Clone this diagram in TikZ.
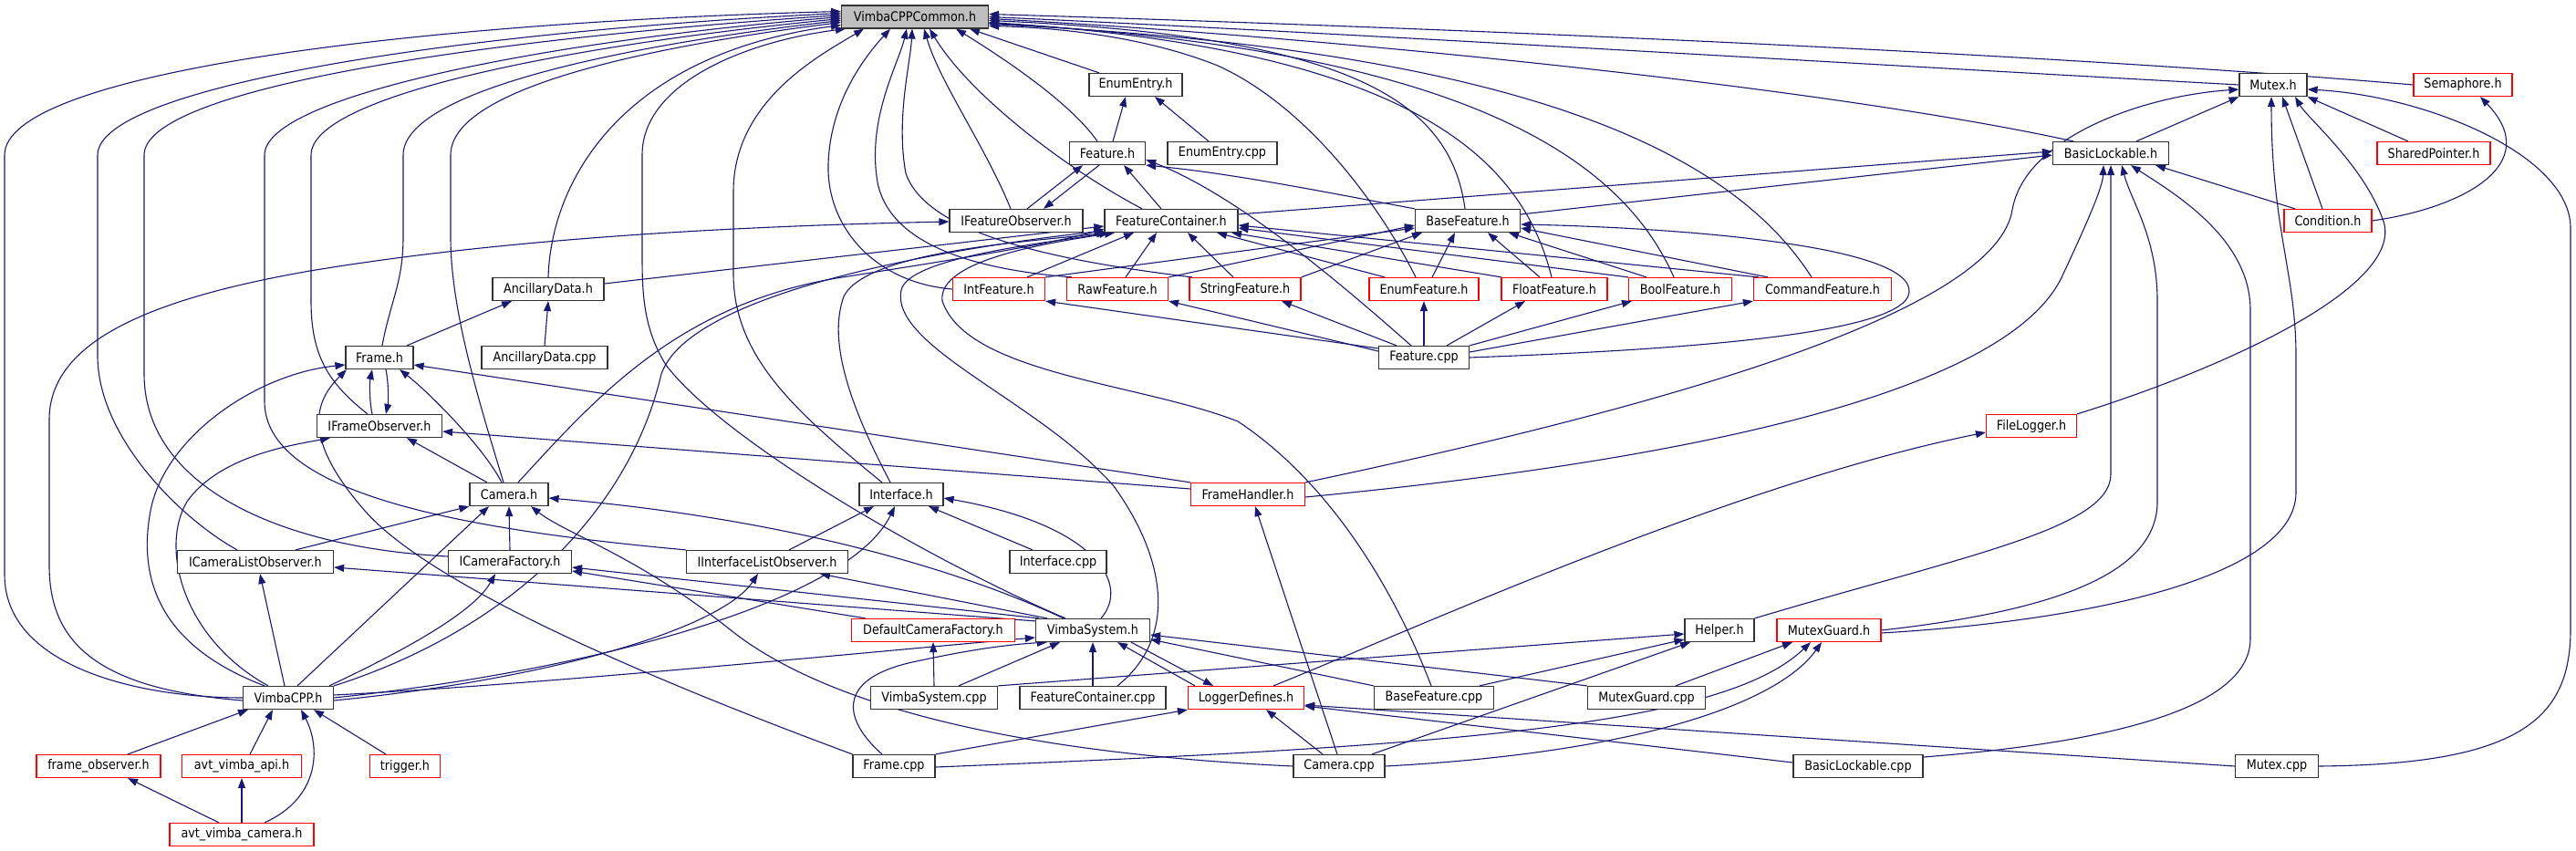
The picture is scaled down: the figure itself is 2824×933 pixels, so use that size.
\documentclass[tikz,border=0pt]{standalone}
\usepackage{fontspec}
\setmainfont{DejaVu Sans}[FakeStretch=0.88]
\usetikzlibrary{arrows.meta}
\definecolor{navy}{RGB}{25,25,112}
\definecolor{rootgray}{RGB}{191,191,191}
\definecolor{nodered}{RGB}{255,0,0}
\pgfdeclarelayer{bg}
\pgfdeclarelayer{edges}
\pgfsetlayers{bg,edges,main}
\newcommand{\nodefont}{\fontsize{14.5pt}{17pt}\selectfont}
\begin{document}
\begin{tikzpicture}[x=1pt,y=-1pt,
  nb/.style={draw=black!80, line width=1.2pt, fill=white, minimum height=25pt, inner sep=0pt, font=\nodefont},
  nr/.style={nb, draw=nodered},
  ng/.style={nb, fill=rootgray},
  conn/.style={draw=navy, line width=1.1pt, -{Triangle[length=11pt,width=8pt]}}]
\useasboundingbox (0,0) rectangle (2824,933);
\begin{pgfonlayer}{bg}
\fill[white] (0,0) rectangle (2824,933);
\end{pgfonlayer}
% ---------------- nodes ----------------
\node[ng, minimum width=161pt] (vcc) at (1003,18.5) {VimbaCPPCommon.h};
\node[nb, minimum width=102pt] (enumentry) at (1245,93) {EnumEntry.h};
\node[nb, minimum width=83pt] (feature) at (1214,168) {Feature.h};
\node[nb, minimum width=120pt] (enumentrycpp) at (1340,168) {EnumEntry.cpp};
\node[nb, minimum width=146pt] (ifeatobs) at (1114,242) {IFeatureObserver.h};
\node[nb, minimum width=146pt] (featcont) at (1284,242) {FeatureContainer.h};
\node[nb, minimum width=115pt] (basefeat) at (1609,242) {BaseFeature.h};
\node[nr, minimum width=101pt] (intfeat) at (1095,317) {IntFeature.h};
\node[nr, minimum width=111pt] (rawfeat) at (1225,317) {RawFeature.h};
\node[nr, minimum width=122pt] (stringfeat) at (1365,317) {StringFeature.h};
\node[nr, minimum width=120pt] (enumfeat) at (1561,317) {EnumFeature.h};
\node[nr, minimum width=116pt] (floatfeat) at (1704,317) {FloatFeature.h};
\node[nr, minimum width=113pt] (boolfeat) at (1842,317) {BoolFeature.h};
\node[nr, minimum width=151pt] (cmdfeat) at (1998,317) {CommandFeature.h};
\node[nb, minimum width=99pt] (featurecpp) at (1561,392) {Feature.cpp};
\node[nb, minimum width=74pt] (mutex) at (2492,93) {Mutex.h};
\node[nr, minimum width=108pt] (semaphore) at (2700,93) {Semaphore.h};
\node[nb, minimum width=127pt] (basiclock) at (2314,168) {BasicLockable.h};
\node[nr, minimum width=124pt] (sharedptr) at (2668,168) {SharedPointer.h};
\node[nr, minimum width=96pt] (condition) at (2552,242) {Condition.h};
\node[nr, minimum width=99pt] (filelogger) at (2227,467) {FileLogger.h};
\node[nb, minimum width=122pt] (ancdata) at (601,317) {AncillaryData.h};
\node[nb, minimum width=138pt] (ancdatacpp) at (597,392) {AncillaryData.cpp};
\node[nb, minimum width=74pt] (frameh) at (416,392) {Frame.h};
\node[nb, minimum width=137pt] (iframeobs) at (416,467) {IFrameObserver.h};
\node[nb, minimum width=86pt] (camerah) at (558,542) {Camera.h};
\node[nb, minimum width=171pt] (icamlistobs) at (280,616) {ICameraListObserver.h};
\node[nb, minimum width=135pt] (icamfact) at (559,616) {ICameraFactory.h};
\node[nb, minimum width=92pt] (interfaceh) at (988,542) {Interface.h};
\node[nb, minimum width=177pt] (iifacelistobs) at (841,616) {IInterfaceListObserver.h};
\node[nb, minimum width=106pt] (interfacecpp) at (1160,616) {Interface.cpp};
\node[nr, minimum width=125pt] (framehandler) at (1368,542) {FrameHandler.h};
\node[nr, minimum width=179pt] (defcamfact) at (1023,691) {DefaultCameraFactory.h};
\node[nb, minimum width=125pt] (vimbasys) at (1198,691) {VimbaSystem.h};
\node[nb, minimum width=139pt] (vimbasyscpp) at (1024,765) {VimbaSystem.cpp};
\node[nb, minimum width=160pt] (featcontcpp) at (1198,765) {FeatureContainer.cpp};
\node[nr, minimum width=127pt] (loggerdef) at (1366,765) {LoggerDefines.h};
\node[nb, minimum width=90pt] (framecpp) at (980,840) {Frame.cpp};
\node[nb, minimum width=76pt] (helper) at (1885,691) {Helper.h};
\node[nr, minimum width=114pt] (mutexguard) at (2005,691) {MutexGuard.h};
\node[nb, minimum width=131pt] (basefeatcpp) at (1572,765) {BaseFeature.cpp};
\node[nb, minimum width=129pt] (mutexguardcpp) at (1805,765) {MutexGuard.cpp};
\node[nb, minimum width=100pt] (cameracpp) at (1468,840) {Camera.cpp};
\node[nb, minimum width=142pt] (basiclockcpp) at (2037,840) {BasicLockable.cpp};
\node[nb, minimum width=91pt] (mutexcpp) at (2496,840) {Mutex.cpp};
\node[nb, minimum width=99pt] (vimbacpp) at (316,765) {VimbaCPP.h};
\node[nr, minimum width=136pt] (frameobs) at (108,840) {frame\_observer.h};
\node[nr, minimum width=131pt] (avtapi) at (265,840) {avt\_vimba\_api.h};
\node[nr, minimum width=77pt] (trigger) at (444,840) {trigger.h};
\node[nr, minimum width=158pt] (avtcam) at (265,915) {avt\_vimba\_camera.h};
% ---------------- connectors ----------------
\begin{pgfonlayer}{edges}
% into VimbaCPPCommon.h from the left
\draw[conn] (vimbacpp) .. controls (150,765) and (5,730) .. (5,630) -- (5,170) .. controls (5,80) and (450,25) .. ([yshift=6pt]vcc.west);
\draw[conn] ([xshift=-20pt]icamlistobs.north) .. controls (200,570) and (107,480) .. (107,390) -- (107,170) .. controls (107,95) and (500,35) .. ([yshift=4pt]vcc.west);
\draw[conn] ([yshift=6pt]icamfact.west) .. controls (300,600) and (158,530) .. (158,410) -- (158,170) .. controls (158,100) and (500,45) .. ([yshift=2pt]vcc.west);
\draw[conn] (iifacelistobs.north west) .. controls (500,580) and (290,540) .. (290,440) -- (290,170) .. controls (290,105) and (600,45) .. (vcc.west);
\draw[conn] ([xshift=-13pt]iframeobs.north) .. controls (360,420) and (341,390) .. (341,330) -- (341,170) .. controls (341,105) and (620,50) .. ([yshift=-2pt]vcc.west);
\draw[conn] ([xshift=3pt]frameh.north) .. controls (428,330) and (442,310) .. (442,260) -- (442,170) .. controls (442,100) and (680,50) .. ([yshift=-4pt]vcc.west);
\draw[conn] ([xshift=-6pt]camerah.north) .. controls (525,440) and (494,340) .. (494,260) -- (494,170) .. controls (494,95) and (720,50) .. ([yshift=-6pt]vcc.west);
\draw[conn] (ancdata.north) .. controls (604,200) and (680,60) .. ([yshift=-9pt]vcc.west);
\draw[conn] ([xshift=-30pt]vimbasys.north) .. controls (1010,610) and (790,480) .. (730,400) .. controls (705,360) and (704,320) .. (704,280) -- (704,170) .. controls (704,90) and (820,45) .. ([xshift=-76pt]vcc.south);
\draw[conn] ([xshift=-21pt]interfaceh.north) .. controls (870,450) and (804,390) .. (804,300) -- (804,210) .. controls (804,110) and (900,60) .. ([xshift=-56pt]vcc.south);
\draw[conn] (intfeat.west) .. controls (960,310) and (906,250) .. (908,180) .. controls (910,110) and (950,60) .. ([xshift=-27pt]vcc.south);
\draw[conn] ([xshift=-50pt]rawfeat.north) .. controls (1060,295) and (975,265) .. (962,200) .. controls (950,130) and (985,70) .. ([xshift=-9pt]vcc.south);
\draw[conn] ([xshift=-58pt]stringfeat.north) .. controls (1150,285) and (1015,255) .. (993,190) .. controls (982,130) and (998,70) .. ([xshift=-3pt]vcc.south);
\draw[conn] ([xshift=-6pt]ifeatobs.north) .. controls (1080,160) and (1030,90) .. ([xshift=10pt]vcc.south);
\draw[conn] ([xshift=-32pt]featcont.north) .. controls (1160,180) and (1060,100) .. ([xshift=16pt]vcc.south);
\draw[conn] ([xshift=-11pt]feature.north) .. controls (1175,115) and (1110,70) .. ([xshift=45pt]vcc.south);
\draw[conn] ([xshift=-40pt]enumentry.north) -- ([xshift=60pt]vcc.south);
% into VimbaCPPCommon.h from the right
\draw[conn] (semaphore.west) .. controls (2200,55) and (1500,28) .. ([yshift=3pt]vcc.east);
\draw[conn] (mutex.west) .. controls (2000,68) and (1450,35) .. (vcc.east);
\draw[conn] ([xshift=-41pt]basiclock.north) .. controls (2000,95) and (1450,40) .. ([yshift=-2pt]vcc.east);
\draw[conn] ([xshift=-3pt]basefeat.north) .. controls (1590,110) and (1480,40) .. ([yshift=-4pt]vcc.east);
\draw[conn] ([xshift=-3pt]floatfeat.north) .. controls (1670,180) and (1560,55) .. ([yshift=-6pt]vcc.east);
\draw[conn] ([xshift=-7pt]boolfeat.north) .. controls (1780,180) and (1620,55) .. ([yshift=-7pt]vcc.east);
\draw[conn] ([xshift=-12pt]cmdfeat.north) .. controls (1900,170) and (1680,55) .. ([yshift=-8pt]vcc.east);
\draw[conn] ([xshift=-9pt]enumfeat.north) .. controls (1510,220) and (1430,115) .. (1335,72) .. controls (1250,38) and (1150,30) .. ([yshift=-10pt]vcc.east);
% Feature.h cluster
\draw[conn] ([xshift=6pt]feature.north) -- ([xshift=-11pt]enumentry.south);
\draw[conn] ([xshift=-15pt]enumentrycpp.north) -- ([xshift=21pt]enumentry.south);
\draw[conn] ([xshift=12pt]ifeatobs.north) -- ([xshift=-27pt]feature.south);
\draw[conn] ([xshift=-9pt]feature.south) -- ([xshift=30pt]ifeatobs.north);
\draw[conn] ([xshift=-11pt]featcont.north) -- ([xshift=18pt]feature.south);
\draw[conn] (basefeat.north west) .. controls (1450,210) and (1350,190) .. (feature.south east);
\draw[conn] ([xshift=-14pt]featurecpp.north) .. controls (1480,320) and (1360,215) .. ([yshift=-7pt]feature.east);
\draw[conn] ([yshift=7pt]featcont.east) -- ([yshift=2pt]basiclock.west);
\draw[conn] ([yshift=7pt]basefeat.east) -- ([yshift=-2pt]basiclock.west);
% feature types
\draw[conn] ([xshift=31pt]intfeat.north) -- ([xshift=-41pt]featcont.south);
\draw[conn] ([xshift=9pt]rawfeat.north) -- ([xshift=-16pt]featcont.south);
\draw[conn] ([xshift=-13pt]stringfeat.north) -- ([xshift=18pt]featcont.south);
\draw[conn] ([xshift=-43pt]enumfeat.north) -- ([xshift=50pt]featcont.south);
\draw[conn] ([xshift=-58pt]floatfeat.north) -- ([xshift=66pt]featcont.south);
\draw[conn] (boolfeat.north west) -- ([yshift=-8pt]featcont.east);
\draw[conn] ([xshift=-70pt]cmdfeat.north) -- ([yshift=-5pt]featcont.east);
\draw[conn] (intfeat.north east) -- ([yshift=-8pt]basefeat.west);
\draw[conn] (rawfeat.north east) -- ([yshift=-5pt]basefeat.west);
\draw[conn] (stringfeat.north east) -- ([xshift=-50pt]basefeat.south);
\draw[conn] ([xshift=9pt]enumfeat.north) -- ([xshift=-14pt]basefeat.south);
\draw[conn] ([xshift=-16pt]floatfeat.north) -- ([xshift=22pt]basefeat.south);
\draw[conn] ([xshift=-37pt]boolfeat.north) -- ([xshift=45pt]basefeat.south);
\draw[conn] ([xshift=-60pt]cmdfeat.north) -- ([yshift=-8pt]basefeat.east);
% Feature.cpp
\draw[conn] ([yshift=10pt]featurecpp.west) -- (intfeat.south east);
\draw[conn] ([yshift=7pt]featurecpp.west) -- (rawfeat.south east);
\draw[conn] ([xshift=-30pt]featurecpp.north) -- ([xshift=40pt]stringfeat.south);
\draw[conn] (featurecpp.north) -- (enumfeat.south);
\draw[conn] ([xshift=25pt]featurecpp.north) -- ([xshift=-32pt]floatfeat.south);
\draw[conn] (featurecpp.north east) -- ([xshift=-53pt]boolfeat.south);
\draw[conn] ([yshift=6pt]featurecpp.east) -- (cmdfeat.south west);
\draw[conn] (featurecpp.east) .. controls (1800,385) and (2090,370) .. (2093,320) .. controls (2096,270) and (1850,250) .. ([yshift=-4pt]basefeat.east);
% Mutex / BasicLockable group
\draw[conn] ([xshift=28pt]basiclock.north) -- (mutex.south west);
\draw[conn] ([xshift=-28pt]sharedptr.north) -- (mutex.south east);
\draw[conn] ([xshift=-6pt]condition.north) -- ([xshift=10pt]mutex.south);
\draw[conn] ([xshift=-36pt]condition.north) -- ([xshift=49pt]basiclock.south);
\draw[conn] (condition.east) .. controls (2700,228) and (2790,180) .. ([xshift=19pt]semaphore.south);
\draw[conn] (filelogger.north east) .. controls (2450,400) and (2640,310) .. (2612,240) .. controls (2590,180) and (2530,130) .. ([xshift=24pt]mutex.south);
\draw[conn] (framehandler.north east) .. controls (1900,430) and (2190,330) .. (2206,230) .. controls (2220,150) and (2350,105) .. ([yshift=-5pt]mutex.west);
\draw[conn] ([yshift=-3pt]framehandler.east) .. controls (1900,500) and (2210,420) .. (2262,300) .. controls (2290,240) and (2305,205) .. ([xshift=-8pt]basiclock.south);
\draw[conn] (helper.north east) .. controls (2150,610) and (2314,580) .. (2314,520) -- (basiclock.south);
\draw[conn] (mutexguard.east) .. controls (2250,670) and (2365,630) .. (2365,550) -- (2365,330) .. controls (2365,260) and (2336,220) .. ([xshift=12pt]basiclock.south);
\draw[conn] ([yshift=-3pt]mutexguard.east) .. controls (2300,680) and (2517,630) .. (2517,540) -- (2517,390) .. controls (2517,300) and (2490,250) .. ([xshift=-2pt]mutex.south);
\draw[conn] ([yshift=10pt]basiclockcpp.east) .. controls (2300,815) and (2467,780) .. (2467,700) -- (2467,340) .. controls (2467,260) and (2380,210) .. ([xshift=22pt]basiclock.south);
\draw[conn] (mutexcpp.east) .. controls (2760,838) and (2818,790) .. (2818,690) -- (2818,250) .. controls (2818,170) and (2660,105) .. ([yshift=-5pt]mutex.east);
\draw[conn] (mutexcpp.west) -- ([yshift=-8pt]loggerdef.east);
\draw[conn] ([yshift=4pt]basiclockcpp.west) -- ([yshift=-9pt]loggerdef.east);
\draw[conn] ([xshift=30pt]loggerdef.north) .. controls (1550,690) and (1900,530) .. ([yshift=-7pt]filelogger.west);
% VimbaSystem.h
\draw[conn] ([xshift=-56pt]loggerdef.north) -- ([xshift=27pt]vimbasys.south);
\draw[conn] ([xshift=42pt]vimbasys.south) -- ([xshift=-36pt]loggerdef.north);
\draw[conn] ([xshift=9pt]vimbasys.north) .. controls (1240,640) and (1200,575) .. ([yshift=-4pt]interfaceh.east);
\draw[conn] ([xshift=-32pt]vimbasys.north) .. controls (1020,610) and (820,565) .. ([yshift=-4pt]camerah.east);
\draw[conn] ([yshift=-3pt]vimbasys.north west) -- ([yshift=-6pt]icamlistobs.east);
\draw[conn] ([xshift=4pt]vimbasys.north west) -- ([yshift=-6pt]icamfact.east);
\draw[conn] ([xshift=-74pt]defcamfact.north) -- ([yshift=-10pt]icamfact.east);
\draw[conn] ([xshift=-50pt]vimbasys.north) -- ([xshift=58pt]iifacelistobs.south);
\draw[conn] ([yshift=3pt]vimbacpp.east) .. controls (600,750) and (950,715) .. ([yshift=-8pt]vimbasys.west);
\draw[conn] ([xshift=27pt]vimbasyscpp.north) -- ([xshift=-36pt]vimbasys.south);
\draw[conn] (vimbasyscpp.north) -- (defcamfact.south);
\draw[conn] (featcontcpp.north) -- (vimbasys.south);
\draw[conn] ([xshift=-13pt]framecpp.north) .. controls (925,790) and (915,745) .. (1000,726) .. controls (1060,713) and (1100,707) .. ([xshift=-50pt]vimbasys.south);
\draw[conn] (mutexguardcpp.north west) -- ([yshift=-5pt]vimbasys.east);
\draw[conn] (basefeatcpp.north west) -- ([yshift=-10pt]vimbasys.east);
\draw[conn] (vimbasyscpp.north east) -- ([yshift=-4pt]helper.west);
\draw[conn] ([xshift=50pt]basefeatcpp.north) -- ([yshift=-10pt]helper.west);
\draw[conn] ([xshift=36pt]cameracpp.north) -- ([xshift=-32pt]helper.south);
% FeatureContainer.h from below
\draw[conn] ([xshift=-3pt]basefeatcpp.north) .. controls (1530,650) and (1460,530) .. (1357,462) .. controls (1250,420) and (1060,410) .. (1033,330) .. controls (1027,285) and (1150,266) .. ([xshift=-62pt]featcont.south);
\draw[conn] ([xshift=27pt]featcontcpp.north) .. controls (1290,700) and (1280,615) .. (1221,533) .. controls (1140,440) and (975,380) .. (988,318) .. controls (996,282) and (1150,266) .. ([xshift=-68pt]featcont.south);
\draw[conn] ([yshift=6pt]ancdata.east) -- ([yshift=-6pt]featcont.west);
\draw[conn] ([xshift=10pt]camerah.north) .. controls (650,440) and (740,335) .. (917,305) .. controls (1050,284) and (1150,268) .. ([yshift=-9pt]featcont.west);
\draw[conn] ([xshift=-12pt]interfaceh.north) .. controls (940,460) and (905,380) .. (925,325) .. controls (950,275) and (1130,265) .. ([xshift=-71pt]featcont.south);
\draw[conn] (vimbacpp.north east) .. controls (560,690) and (690,560) .. (725,410) .. controls (760,310) and (1100,265) .. ([yshift=-11pt]featcont.west);
% Ancillary, Frame, Camera
\draw[conn] (ancdatacpp.north) -- (ancdata.south);
\draw[conn] ([xshift=30pt]frameh.north) -- ([xshift=-40pt]ancdata.south);
\draw[conn] ([xshift=7pt]frameh.south) .. controls (426,420) and (426,440) .. ([xshift=7pt]iframeobs.north);
\draw[conn] ([xshift=-8pt]iframeobs.north) .. controls (405,440) and (405,420) .. ([xshift=-8pt]frameh.south);
\draw[conn] ([xshift=-8pt]camerah.north) .. controls (530,490) and (470,430) .. ([xshift=22pt]frameh.south);
\draw[conn] (framehandler.north west) -- ([yshift=-8pt]frameh.east);
\draw[conn] ([yshift=6pt]framehandler.west) -- ([yshift=-6pt]iframeobs.east);
\draw[conn] (framecpp.north west) .. controls (700,740) and (470,640) .. (400,560) .. controls (330,480) and (345,440) .. ([xshift=-36pt]frameh.south);
\draw[conn] ([xshift=-24pt]camerah.north) -- ([xshift=30pt]iframeobs.south);
\draw[conn] ([xshift=44pt]icamlistobs.north) -- (camerah.south west);
\draw[conn] (icamfact.north) -- (camerah.south);
\draw[conn] (cameracpp.west) .. controls (1100,825) and (900,770) .. (800,690) .. controls (700,610) and (620,585) .. ([xshift=24pt]camerah.south);
\draw[conn] ([xshift=-2pt]cameracpp.north) -- ([xshift=8pt]framehandler.south);
\draw[conn] ([xshift=-18pt]cameracpp.north) -- ([xshift=22pt]loggerdef.south);
\draw[conn] (cameracpp.east) .. controls (1800,825) and (1950,770) .. ([xshift=-8pt]mutexguard.south);
\draw[conn] ([yshift=-1pt]framecpp.east) .. controls (1600,818) and (1890,795) .. ([xshift=-20pt]mutexguard.south);
\draw[conn] (framecpp.north east) -- (loggerdef.south west);
\draw[conn] ([xshift=32pt]mutexguardcpp.north) -- ([xshift=-40pt]mutexguard.south);
% Interface
\draw[conn] ([xshift=24pt]iifacelistobs.north) -- ([xshift=-30pt]interfaceh.south);
\draw[conn] ([xshift=-28pt]interfacecpp.north) -- ([xshift=30pt]interfaceh.south);
% VimbaCPP.h includes
\draw[conn] (vimbacpp.east) .. controls (650,735) and (930,660) .. ([xshift=-7pt]interfaceh.south);
\draw[conn] ([yshift=-3pt]vimbacpp.east) .. controls (600,745) and (790,690) .. ([xshift=-10pt]iifacelistobs.south);
\draw[conn] ([xshift=10pt]vimbacpp.north) -- ([xshift=-22pt]camerah.south);
\draw[conn] ([xshift=45pt]vimbacpp.north) .. controls (450,710) and (520,670) .. ([xshift=-16pt]icamfact.south);
\draw[conn] ([xshift=-4pt]vimbacpp.north) -- ([xshift=5pt]icamlistobs.south);
\draw[conn] ([xshift=-26pt]vimbacpp.north) .. controls (180,710) and (150,640) .. (165,560) .. controls (180,480) and (280,410) .. ([yshift=-8pt]frameh.west);
\draw[conn] ([xshift=-22pt]vimbacpp.north) .. controls (200,700) and (175,600) .. (205,550) .. controls (240,500) and (320,488) .. ([xshift=-54pt]iframeobs.south);
\draw[conn] ([yshift=-3pt]vimbacpp.west) .. controls (100,755) and (54,700) .. (54,620) -- (54,460) .. controls (54,380) and (150,330) .. (340,297) .. controls (550,262) and (800,248) .. ([yshift=-1pt]ifeatobs.west);
% bottom
\draw[conn] ([xshift=32pt]frameobs.north) -- ([xshift=-44pt]vimbacpp.south);
\draw[conn] ([xshift=9pt]avtapi.north) -- ([xshift=-17pt]vimbacpp.south);
\draw[conn] ([xshift=-21pt]trigger.north) -- ([xshift=28pt]vimbacpp.south);
\draw[conn] ([xshift=25pt]avtcam.north) .. controls (350,875) and (352,820) .. ([xshift=14pt]vimbacpp.south);
\draw[conn] ([xshift=-25pt]avtcam.north) -- ([xshift=32pt]frameobs.south);
\draw[conn] (avtcam.north) -- (avtapi.south);
\end{pgfonlayer}
\end{tikzpicture}
\end{document}
